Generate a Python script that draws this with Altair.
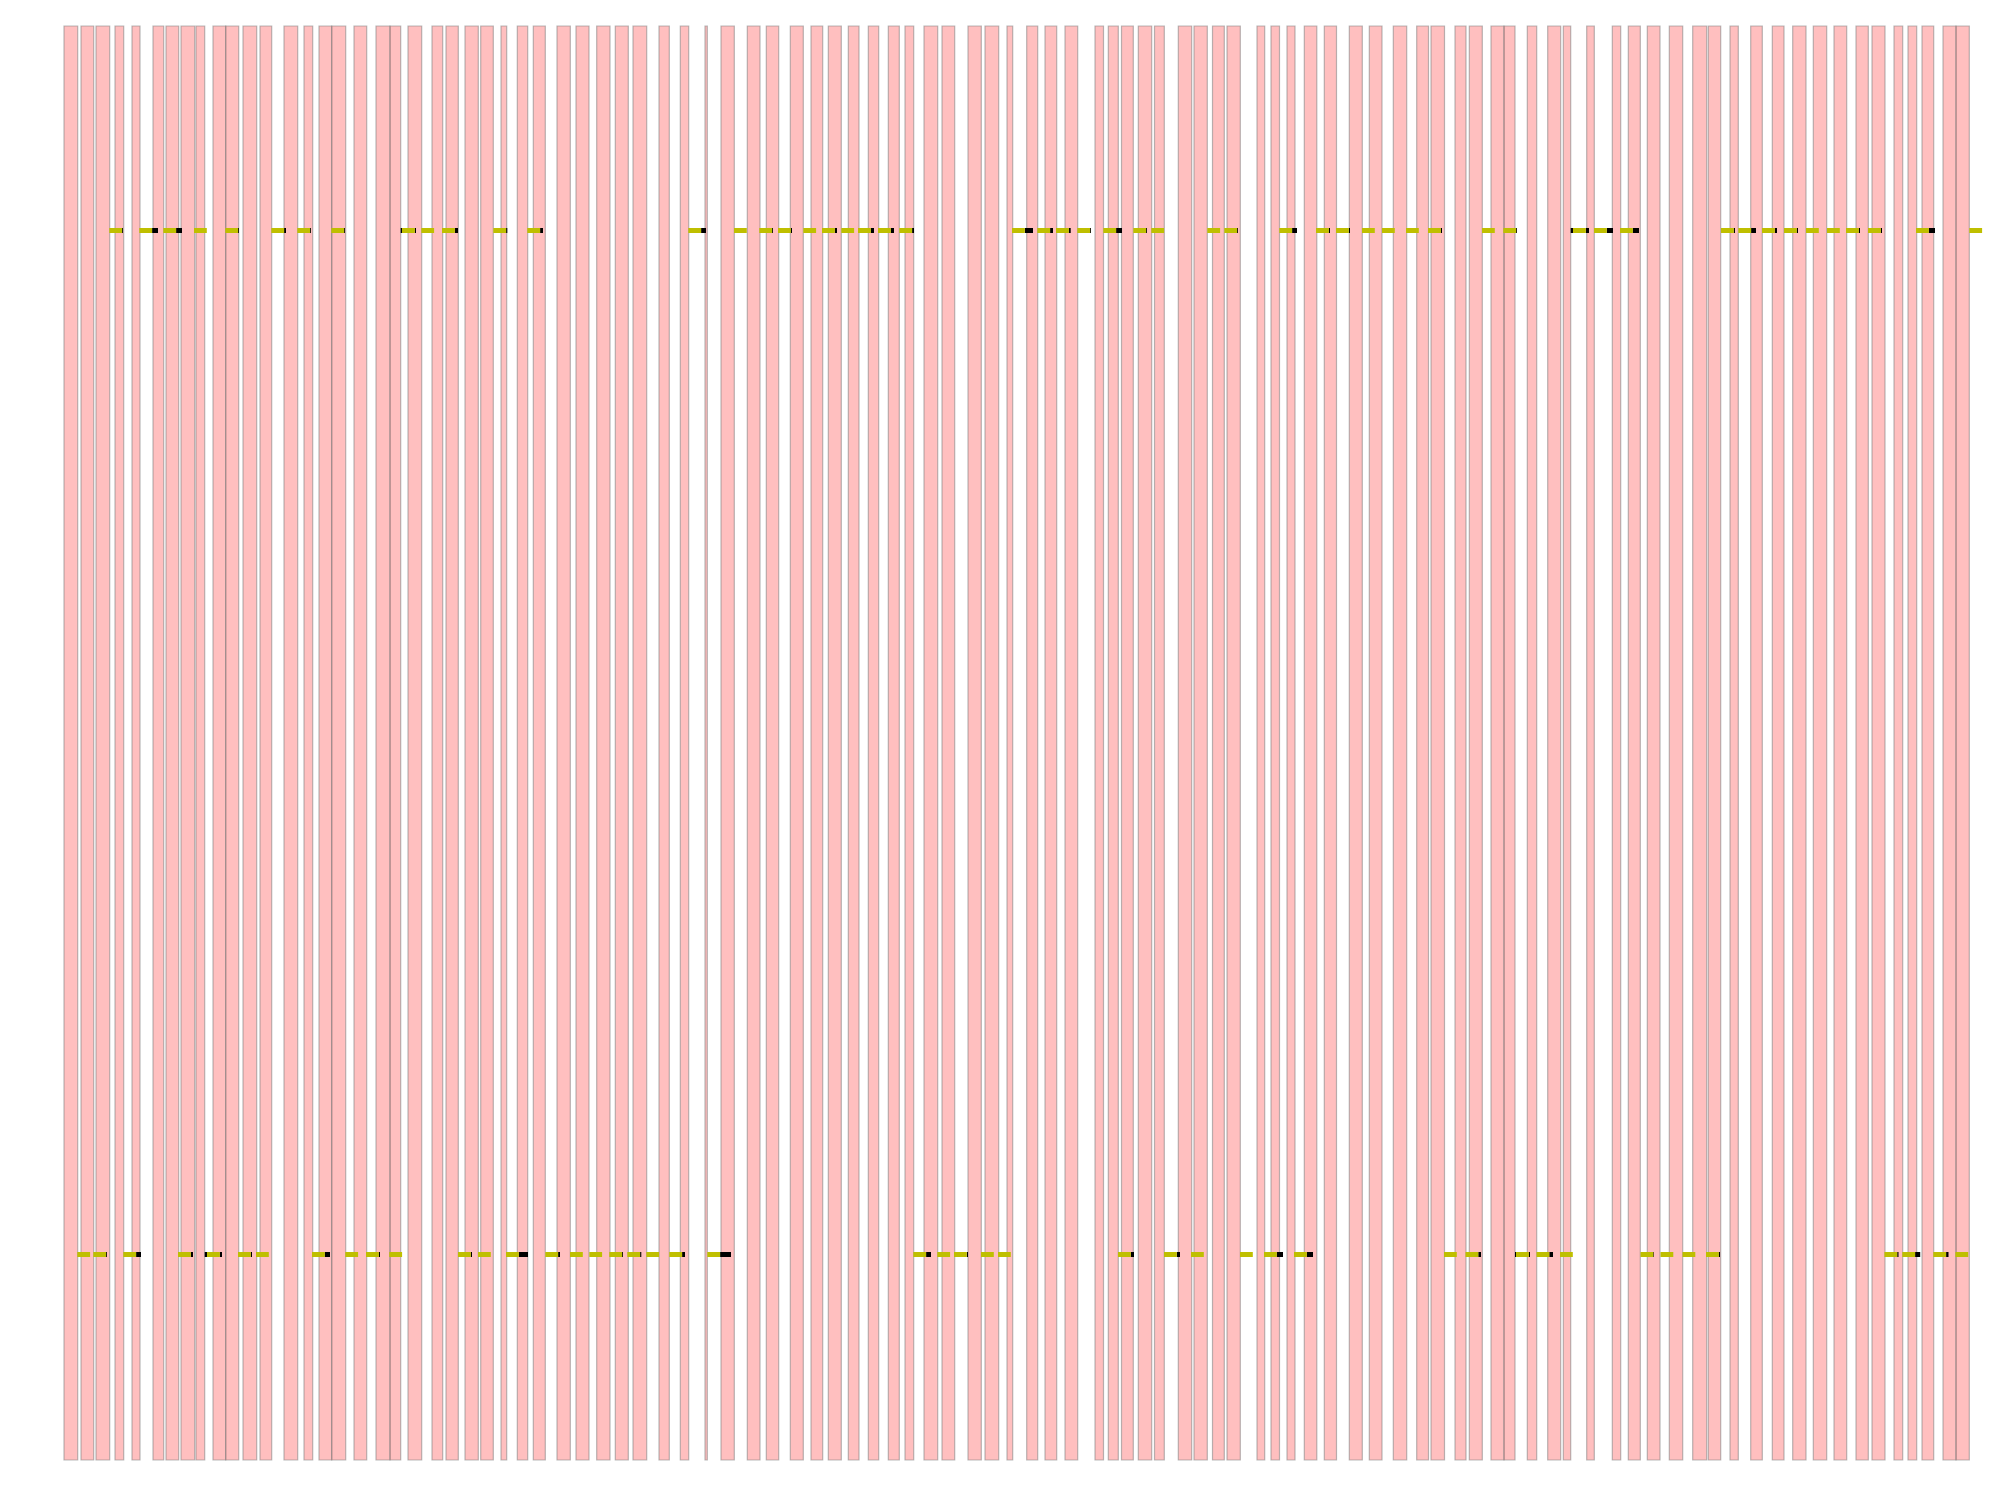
import altair as alt
import pandas as pd

# ---- data (x positions in pixel-like units) ----
bar_start = [64, 81, 96, 115, 132, 153, 166, 181, 196, 213,
             225.7, 243, 260, 284, 304, 319, 331.7, 354, 376, 390,
             408, 432, 446, 465, 480.7, 501, 517.3, 533.3, 557, 576,
             596.7, 615.3, 633, 659, 680.3, 705, 721, 747.3, 766.3, 790.3,
             811, 828.3, 848.3, 868.3, 888.3, 905, 924, 942, 968, 985,
             1007, 1026.7, 1045, 1065, 1095, 1108.3, 1121.5, 1138.3, 1154.5, 1178.3,
             1194, 1212.5, 1227, 1257, 1271, 1287, 1304.3, 1324.3, 1349.3, 1369.3,
             1393.3, 1416.7, 1431, 1455, 1469.3, 1491, 1504, 1527.3, 1547.7, 1563.3,
             1586.7, 1612.3, 1628.3, 1647.3, 1669.3, 1692.7, 1708.3, 1730, 1750.7, 1772.3,
             1792.7, 1813.3, 1834, 1856, 1872, 1894, 1908, 1922, 1943, 1956]

bar_end = [77.7, 93.7, 109.7, 123.7, 140, 163.7, 178.7, 194.7, 204.7, 225.7,
           238.7, 256.7, 271.7, 297.7, 312.7, 331.7, 345.7, 366.7, 390, 400.7,
           421.7, 442.7, 458.3, 478.3, 493.3, 506.7, 527.7, 545.3, 570.3, 589,
           610, 628.3, 646.7, 669.3, 688.7, 707.3, 734.3, 760, 778.7, 803.3,
           822.7, 841.3, 859, 878.7, 899.3, 913.7, 937.7, 954.7, 981.3, 998.7,
           1012.7, 1037.7, 1056.7, 1077.7, 1103.5, 1118.3, 1133.3, 1151.7, 1164.3, 1191.7,
           1207.3, 1224.3, 1240.3, 1264.7, 1279.5, 1295, 1316.8, 1336.5, 1362.3, 1382,
           1406.7, 1428.5, 1444.5, 1466, 1482.3, 1504, 1515, 1536.7, 1560.7, 1570.7,
           1594.3, 1620.7, 1640.3, 1660, 1682.7, 1706.7, 1720.7, 1738.3, 1762.3, 1784,
           1806, 1826.7, 1846.7, 1868.3, 1885, 1902.7, 1916.7, 1933.7, 1956, 1969.3]

lane = ("B B T B T T B T B T "
        "B B T T B T B B B T "
        "T T B B T B T B B B "
        "B B B B T B T T T T "
        "T T T T T B B B B B "
        "T T T T T B T T B B "
        "T T B B T B T T T T "
        "T T B B T T B B B T "
        "T T B B B B T T T T "
        "T T T T B B T B B T").split()

yellow_start = [77.3, 93.3, 109.3, 123.3, 139.3, 163.3, 178, 194, 207, 225.3,
                238, 256, 271.3, 297.3, 312, 331.3, 345.3, 366, 389.3, 402,
                421.3, 442, 458, 478, 493.3, 506, 527.3, 545.3, 570, 589.3,
                609.3, 627.3, 646.3, 669.3, 688.3, 707.3, 734, 759.3, 778, 803.3,
                822, 841.3, 858, 878, 899.3, 913.3, 937.3, 954, 981, 998,
                1012, 1037.3, 1056, 1077.3, 1103.3, 1118, 1133.3, 1151.3, 1164, 1191,
                1207.3, 1224.3, 1240, 1264, 1279.3, 1294, 1316, 1336, 1362, 1382,
                1406, 1428, 1444, 1465.5, 1482, 1503.3, 1516, 1536.5, 1560, 1573,
                1594, 1620, 1640.5, 1660.5, 1682.5, 1706, 1721, 1738.3, 1762, 1784,
                1806, 1827, 1846, 1868, 1884.4, 1902.3, 1916, 1933.3, 1955.4, 1969.3]

# 0 = no black part
black_end = [0, 107, 123, 141, 158, 182, 193, 0, 222, 239,
             252, 0, 286, 311, 330, 345, 0, 380, 0, 416,
             0, 458, 472, 0, 507.3, 528, 543, 560, 0, 0,
             623, 641.3, 0, 685, 706, 731, 0, 773, 792, 0,
             837, 0, 874, 894, 914, 931, 0, 968, 0, 0,
             1033, 1053, 1070.7, 1091, 1122, 1134, 1147, 0, 1180, 0,
             0, 1238, 0, 1283, 1297, 1313, 1330, 1350, 0, 0,
             0, 1442, 0, 1481, 0, 1517, 1530, 1553, 0, 1589,
             1613, 1639, 1654, 0, 0, 1720, 1735, 1756, 1777, 1798,
             0, 0, 1860, 1882, 1898.5, 1920.2, 1935, 1948.5, 0, 0]

# ---- layout (vertical placement on the 0..1500 scale) ----
BAR_TOP, BAR_BOTTOM = 26, 1460
LANE_Y = {"T": (228, 233), "B": (1252, 1257)}
MARK_W = 12.8

bars = pd.DataFrame({"start": bar_start, "end": bar_end})
bars["y0"] = BAR_TOP
bars["y1"] = BAR_BOTTOM

marks = pd.DataFrame({"bar_end": bar_end, "lane": lane,
                      "ys": yellow_start, "be": black_end})
marks["ye"] = marks["ys"] + MARK_W
marks["y0"] = marks["lane"].map(lambda l: LANE_Y[l][0])
marks["y1"] = marks["lane"].map(lambda l: LANE_Y[l][1])

# black pieces: the part after the yellow tick, plus a lead-in where the
# black run starts before the yellow tick
seg_rows = []
for r in marks.itertuples():
    if r.be <= 0:
        continue
    if r.ys - r.bar_end > 0.8:
        seg_rows.append({"bs": r.bar_end, "be": r.ys, "y0": r.y0, "y1": r.y1})
    if r.be > r.ye:
        seg_rows.append({"bs": r.ye, "be": r.be, "y0": r.y0, "y1": r.y1})
blacks = pd.DataFrame(seg_rows)

xs = alt.Scale(domain=[0, 2000], range=[0, 2000], nice=False, zero=False)
ys = alt.Scale(domain=[0, 1500], range=[0, 1500], nice=False, zero=False)

pink = alt.Chart(bars).mark_rect(
    fill="#ff0000", fillOpacity=0.25, stroke="#808080", strokeOpacity=0.55, strokeWidth=1.2
).encode(
    x=alt.X("start:Q", scale=xs, axis=None), x2="end:Q",
    y=alt.Y("y0:Q", scale=ys, axis=None), y2="y1:Q",
)

black = alt.Chart(blacks).mark_rect(color="#000000").encode(
    x=alt.X("bs:Q", scale=xs, axis=None), x2="be:Q",
    y=alt.Y("y0:Q", scale=ys, axis=None), y2="y1:Q",
)

yellow = alt.Chart(marks).mark_rect(color="#bfbf00").encode(
    x=alt.X("ys:Q", scale=xs, axis=None), x2="ye:Q",
    y=alt.Y("y0:Q", scale=ys, axis=None), y2="y1:Q",
)

chart = alt.layer(pink, black, yellow).properties(
    width=2000, height=1500, padding=0, autosize="none", background="white"
).configure_view(stroke=None)

chart.save("out.html", embed_options={"renderer": "svg", "actions": False})
